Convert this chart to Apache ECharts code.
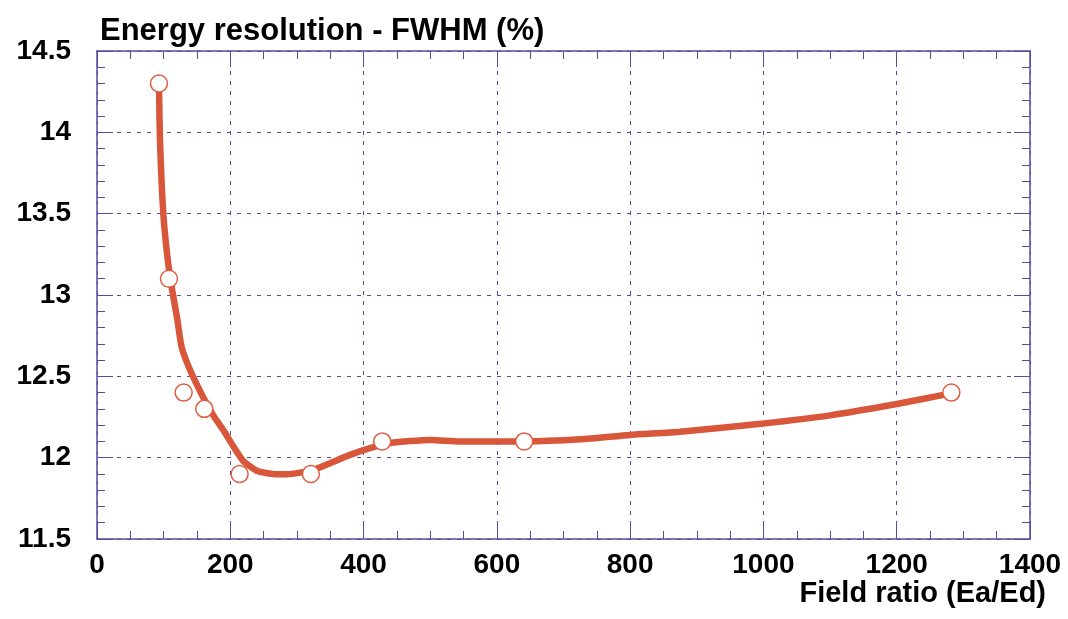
<!DOCTYPE html>
<html>
<head>
<meta charset="utf-8">
<script src="https://cdn.jsdelivr.net/npm/echarts@6/dist/echarts.min.js"></script>
<style>
html,body{margin:0;padding:0;background:#fff;}
#c{width:1068px;height:619px;}
</style>
</head>
<body>
<div id="c"></div>
<script>
// Measured points
const fieldRatio = [93, 108, 130, 161, 214, 321, 428, 641, 1282];
const resolution = [14.3, 13.1, 12.4, 12.3, 11.9, 11.9, 12.1, 12.1, 12.4];
// Fitted curve
const fitX = [93, 94.5, 99.5, 105.5, 112, 120.5, 127, 139.5, 159.5, 174.5, 189.5, 204.5, 219.5, 239.6, 264.5, 284.7, 304.6, 324.6, 349.6, 379.6, 409.6, 440, 500, 545, 600, 641, 725, 800, 875, 1000, 1100, 1200, 1270, 1282];
const fitY = [14.3, 13.95, 13.5, 13.24, 13.05, 12.85, 12.68, 12.54, 12.37, 12.26, 12.17, 12.07, 11.98, 11.92, 11.90, 11.898, 11.908, 11.925, 11.966, 12.017, 12.058, 12.09, 12.109, 12.10, 12.10, 12.10, 12.113, 12.14, 12.16, 12.21, 12.26, 12.33, 12.386, 12.4];
const titleText = 'Energy resolution - FWHM (%)';
const xTitle = 'Field ratio (Ea/Ed)';

const frame = '#5b4a9c';
const font = 'Liberation Sans, Arial, Helvetica, sans-serif';
const chart = echarts.init(document.getElementById('c'), null, {renderer: 'canvas'});

function axisCommon(extra) {
  return Object.assign({
    axisLine: {show: true, onZero: false, lineStyle: {color: frame, width: 1.5}},
    axisTick: {show: true, inside: true, length: 16, lineStyle: {color: frame, width: 1}},
    minorTick: {show: true, length: 8, lineStyle: {color: frame, width: 1}},
    splitLine: {show: false},
  }, extra);
}

const option = {
  animation: false,
  backgroundColor: '#fff',
  title: [
    {
      text: titleText, left: 95, top: 11,
      textStyle: {fontFamily: font, fontWeight: 'bold', fontSize: 31, color: '#000'}
    },
    {
      text: xTitle, right: 17, top: 574,
      textStyle: {fontFamily: font, fontWeight: 'bold', fontSize: 29, color: '#000'}
    }
  ],
  grid: {left: 97, right: 38, top: 51, bottom: 80, containLabel: false, outerBoundsMode: 'none'},
  xAxis: [
    axisCommon({
      type: 'value', min: 0, max: 1400, interval: 200, position: 'bottom',
      minorTick: {show: true, splitNumber: 4, length: 8, lineStyle: {color: frame, width: 1}},
      splitLine: {show: true, lineStyle: {color: frame, width: 1, type: [4, 6]}},
      axisLabel: {show: true, margin: 12, fontFamily: font, fontWeight: 'bold', fontSize: 28, color: '#000',
        formatter: v => String(v)}
    }),
    axisCommon({
      type: 'value', min: 0, max: 1400, interval: 200, position: 'top',
      minorTick: {show: true, splitNumber: 4, length: 8, lineStyle: {color: frame, width: 1}},
      axisLabel: {show: false}
    })
  ],
  yAxis: [
    axisCommon({
      type: 'value', min: 11.5, max: 14.5, interval: 0.5, position: 'left',
      minorTick: {show: true, splitNumber: 5, length: 8, lineStyle: {color: frame, width: 1}},
      splitLine: {show: true, lineStyle: {color: frame, width: 1, type: [4, 6]}},
      axisLabel: {show: true, margin: 26, fontFamily: font, fontWeight: 'bold', fontSize: 28, color: '#000',
        padding: [12, 0, 0, 0],
        formatter: v => String(Math.round(v * 10) / 10)}
    }),
    axisCommon({
      type: 'value', min: 11.5, max: 14.5, interval: 0.5, position: 'right',
      minorTick: {show: true, splitNumber: 5, length: 8, lineStyle: {color: frame, width: 1}},
      axisLabel: {show: false}
    })
  ],
  series: [
    {
      type: 'line', xAxisIndex: 0, yAxisIndex: 0,
      data: fitX.map((x, i) => [x, fitY[i]]),
      showSymbol: false, smooth: 0.2,
      lineStyle: {color: '#d8563a', width: 6.5},
      z: 2
    },
    {
      type: 'scatter', xAxisIndex: 0, yAxisIndex: 0,
      data: fieldRatio.map((x, i) => [x, resolution[i]]),
      symbol: 'circle', symbolSize: 17,
      itemStyle: {color: '#ffffff', borderColor: '#df5d44', borderWidth: 1.5, opacity: 1},
      z: 3
    }
  ]
};
chart.setOption(option);
</script>
</body>
</html>
